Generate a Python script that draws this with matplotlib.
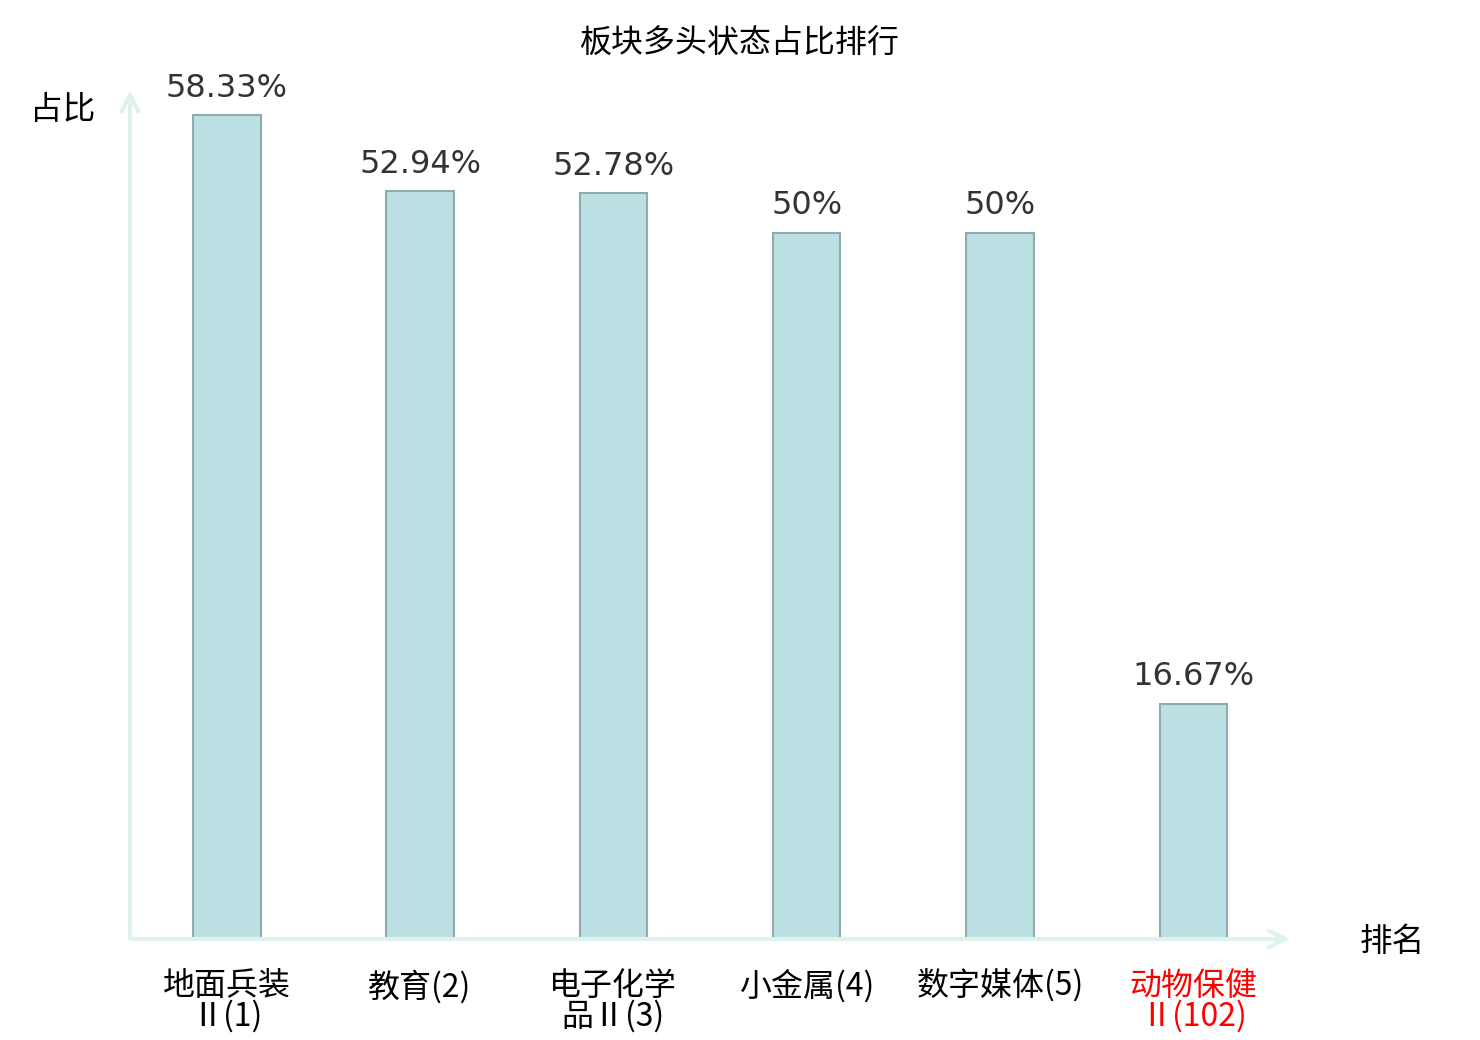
import matplotlib.pyplot as plt
import numpy as np

names = ['地面兵装Ⅱ', '教育', '电子化学品Ⅱ', '小金属', '数字媒体', '动物保健Ⅱ']
ranks = [1, 2, 3, 4, 5, 102]
ratios = [58.33, 52.94, 52.78, 50, 50, 16.67]
value_labels = ['58.33%', '52.94%', '52.78%', '50%', '50%', '16.67%']
label_colors = ['black', 'black', 'black', 'black', 'black', 'red']

cjk = ['Noto Sans CJK SC', 'DejaVu Sans']
plt.rcParams['font.family'] = cjk


def make_label(name, rank):
    # long names get wrapped after 4 chars like the original
    if len(name) > 4:
        return name[:4] + '\n' + name[4:] + f'({rank})'
    return f'{name}({rank})'


fig = plt.figure(figsize=(14.8, 10.4), dpi=100)
ax = fig.add_axes([130 / 1480, 101 / 1040, 1160 / 1480, 849 / 1040])

x = np.arange(len(names))
ax.bar(x, ratios, width=0.35, color='#bce0e3', edgecolor='#8fabab', linewidth=1.5, zorder=2)

for xi, v, lab in zip(x, ratios, value_labels):
    ax.text(xi, v + 0.8, lab, ha='center', va='bottom', fontsize=23,
            family='DejaVu Sans', color='#333333')

ax.set_xlim(-0.5, 5.5)
ax.set_ylim(0, 60.1)
for s in ax.spines.values():
    s.set_visible(False)
ax.set_yticks([])
ax.set_xticks(x)
ax.set_xticklabels([make_label(n, r) for n, r in zip(names, ranks)],
                   fontsize=23, linespacing=0.95)
for t, c in zip(ax.get_xticklabels(), label_colors):
    t.set_color(c)
ax.tick_params(axis='x', length=0, pad=22)

axis_col = '#dff2ef'
ax.annotate('', xy=(0, 1.0), xytext=(0, 0), xycoords='axes fraction',
            arrowprops=dict(arrowstyle='->', color=axis_col, lw=3,
                            mutation_scale=30, shrinkA=0, shrinkB=0))
ax.annotate('', xy=(1.0, 0), xytext=(0, 0), xycoords='axes fraction',
            arrowprops=dict(arrowstyle='->', color=axis_col, lw=3,
                            mutation_scale=30, shrinkA=0, shrinkB=0))

fig.text(63 / 1480, 1 - 110 / 1040, '占比', ha='center', va='center', fontsize=23.5)
fig.text(1392 / 1480, 1 - 942 / 1040, '排名', ha='center', va='center', fontsize=23.5)
fig.text(740 / 1480, 1 - 44 / 1040, '板块多头状态占比排行', ha='center', va='center', fontsize=23)

fig.savefig('out.png', dpi=100)
